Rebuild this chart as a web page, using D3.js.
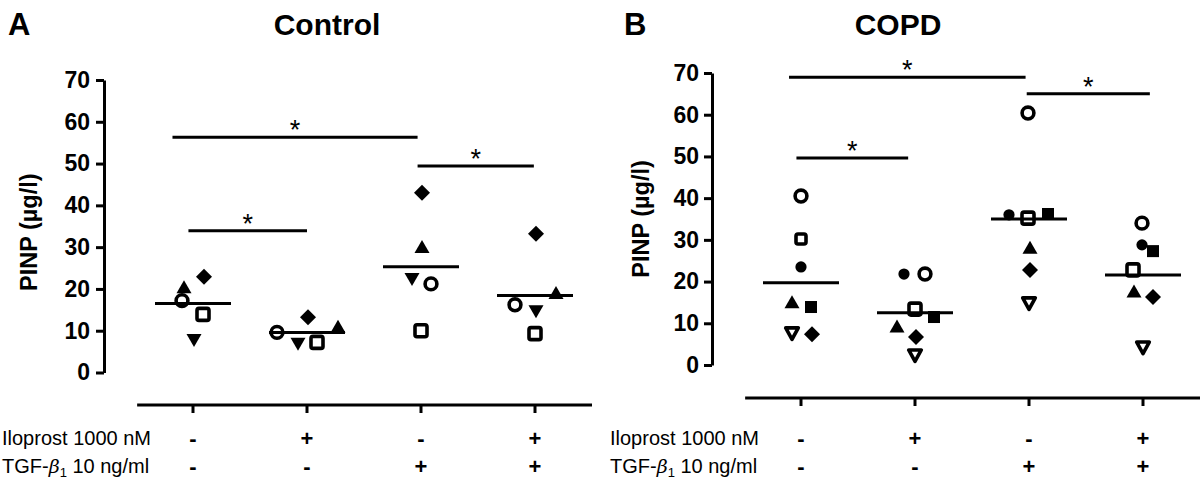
<!DOCTYPE html>
<html><head><meta charset="utf-8">
<script src="https://cdn.jsdelivr.net/npm/d3@7"></script>
<style>
body{margin:0;background:#fff}
svg{display:block;font-family:"Liberation Sans",Arial,Helvetica,sans-serif}
</style>
</head><body>
<svg id="chart" width="1200" height="482"></svg>
<script>
// ---------- data ----------
const categories = ["Iloprost-/TGF-", "Iloprost+/TGF-", "Iloprost-/TGF+", "Iloprost+/TGF+"];
const iloprostRow = ["-", "+", "-", "+"];
const tgfRow = ["-", "-", "+", "+"];
const yTicks = [0, 10, 20, 30, 40, 50, 60, 70];

// Control donors (PINP µg/l)
const ctrlDiamond   = [22.9, 13.2, 43.0, 33.2];
const ctrlTriUp     = [20.3, 10.8, 29.9, 18.9];
const ctrlOpenCirc  = [17.2, 9.6, 21.2, 16.2];
const ctrlOpenSq    = [13.9, 7.2, 10.0, 9.3];
const ctrlTriDown   = [7.9, 7.0, 22.5, 14.8];
const ctrlMeans     = [16.5, 9.6, 25.3, 18.4];
// significance bars: [from category, to category, height]
const ctrlSig = [[-0.04, 1.0, 33.9], [-0.18, 1.97, 56.3], [1.97, 2.99, 49.4]];

// COPD donors (PINP µg/l)
const copdOpenCirc  = [40.5, 21.8, 60.4, 34.0];
const copdOpenSq    = [30.2, 13.4, 35.2, 22.8];
const copdFillCirc  = [23.5, 21.8, 36.0, 28.8];
const copdTriUp     = [14.9, 9.1, 28.0, 17.5];
const copdFillSq    = [13.9, 11.5, 36.2, 27.3];
const copdOpenTriDn = [7.7, 2.4, 14.9, 4.3];
const copdDiamond   = [7.4, 6.7, 22.8, 16.3];
const copdMeans     = [19.7, 12.5, 35.0, 21.6];
const copdSig = [[-0.105, 1.97, 69.0], [1.98, 3.06, 65.0], [-0.04, 0.94, 49.6]];

// ---------- layout (px offsets of points from category centre) ----------
const ctrlSeries = [
  {shape: "diamond",  values: ctrlDiamond,  dx: [11, 1, 1, 1]},
  {shape: "triUp",    values: ctrlTriUp,    dx: [-9, 31, 1, 21]},
  {shape: "openCirc", values: ctrlOpenCirc, dx: [-11, -30, 10, -20]},
  {shape: "openSq",   values: ctrlOpenSq,   dx: [10, 10, 0, 0]},
  {shape: "triDown",  values: ctrlTriDown,  dx: [1, -9, -9, 1]}
];
const copdSeries = [
  {shape: "openCirc",  values: copdOpenCirc,  dx: [0, 10, -1, -1]},
  {shape: "openSqS",   values: copdOpenSq,    dx: [0, 0, -1, -10]},
  {shape: "fillCirc",  values: copdFillCirc,  dx: [0, -11, -20, -1]},
  {shape: "triUp",     values: copdTriUp,     dx: [-9, -18, 1, -9]},
  {shape: "fillSq",    values: copdFillSq,    dx: [10, 19, 19, 10]},
  {shape: "openTriDn", values: copdOpenTriDn, dx: [-9, 0, 0, 0]},
  {shape: "diamond",   values: copdDiamond,   dx: [11, 1, 1, 10]}
];

const svg = d3.select("#chart");

function drawMarker(g, shape, x, y, i) {
  const s = g.append("g").attr("transform", `translate(${x},${y})`);
  switch (shape) {
    case "diamond":
      s.append("path").attr("d", "M0,-8L8,0L0,8L-8,0Z").attr("fill", "#000"); break;
    case "triUp":
      s.append("path").attr("d", "M0,-7.5L7.5,5.5L-7.5,5.5Z").attr("fill", "#000"); break;
    case "triDown":
      s.append("path").attr("d", "M0,7.5L7.5,-5.5L-7.5,-5.5Z").attr("fill", "#000"); break;
    case "openCirc":
      s.append("circle").attr("r", 5.9).attr("fill", "#fff").attr("stroke", "#000").attr("stroke-width", 3.6); break;
    case "openSq":
    case "openSqS": {
      const h = (shape === "openSqS" && i === 0) ? 5 : 6;
      s.append("rect").attr("x", -h).attr("y", -h).attr("width", 2 * h).attr("height", 2 * h).attr("rx", 2)
        .attr("fill", "#fff").attr("stroke", "#000").attr("stroke-width", 3.6); break;
    }
    case "fillCirc":
      s.append("circle").attr("r", 5.6).attr("fill", "#000"); break;
    case "fillSq":
      s.append("rect").attr("x", -6).attr("y", -6).attr("width", 12).attr("height", 12).attr("fill", "#000"); break;
    case "openTriDn":
      s.append("path").attr("d", "M0,6.5L6.3,-5L-6.3,-5Z").attr("fill", "#fff").attr("stroke", "#000")
        .attr("stroke-width", 3.6).attr("stroke-linejoin", "round"); break;
  }
}

function drawPanel(cfg) {
  const x = d3.scaleLinear().domain([0, categories.length - 1]).range(cfg.xRange);
  const y = d3.scaleLinear().domain([0, 70]).range(cfg.yRange);
  const g = svg.append("g");

  // panel letter and title
  g.append("text").attr("x", cfg.letterX).attr("y", 35).attr("font-size", 31).attr("font-weight", "bold").text(cfg.letter);
  g.append("text").attr("x", cfg.titleX).attr("y", 35).attr("text-anchor", "middle")
    .attr("font-size", 30).attr("font-weight", "bold").text(cfg.title);

  // y axis
  const yAxis = d3.axisLeft(y).tickValues(yTicks).tickSize(8).tickSizeOuter(0).tickPadding(cfg.tickPad);
  const ya = g.append("g").attr("transform", `translate(${cfg.axisX},0)`).call(yAxis);
  ya.select(".domain").attr("stroke-width", 3);
  ya.selectAll(".tick line").attr("stroke-width", 3);
  ya.selectAll(".tick text").attr("font-size", 23).attr("font-weight", "bold")
    .attr("font-family", "'Liberation Sans',Arial,sans-serif").attr("fill", "#000");

  // y label
  const yc = (cfg.yRange[0] + cfg.yRange[1]) / 2;
  g.append("text").attr("transform", `translate(${cfg.labelX},${yc + cfg.labelDy}) rotate(-90)`)
    .attr("text-anchor", "middle").attr("dy", "0.35em")
    .attr("font-size", 23.5).attr("font-weight", "bold").text("PINP (µg/l)");

  // markers
  cfg.series.forEach(s => {
    s.values.forEach((v, i) => drawMarker(g, s.shape, x(i) + s.dx[i], y(v), i));
  });

  // mean lines
  g.selectAll(".mean").data(cfg.means).join("line")
    .attr("x1", (d, i) => x(i) - 38).attr("x2", (d, i) => x(i) + 38)
    .attr("y1", d => y(d)).attr("y2", d => y(d))
    .attr("stroke", "#000").attr("stroke-width", 3);

  // significance bars
  cfg.sig.forEach(([a, b, v]) => {
    g.append("line").attr("x1", x(a)).attr("x2", x(b)).attr("y1", y(v)).attr("y2", y(v))
      .attr("stroke", "#000").attr("stroke-width", 3);
    g.append("text").attr("x", (x(a) + x(b)) / 2).attr("y", y(v) + 2).attr("text-anchor", "middle")
      .attr("font-size", 27).text("*");
  });

  // bottom axis line with ticks
  const by = cfg.bottomY;
  g.append("line").attr("x1", x(-0.49)).attr("x2", x(3.5)).attr("y1", by).attr("y2", by)
    .attr("stroke", "#000").attr("stroke-width", 3);
  g.selectAll(".btick").data(categories).join("line")
    .attr("x1", (d, i) => x(i)).attr("x2", (d, i) => x(i))
    .attr("y1", by).attr("y2", by + 8).attr("stroke", "#000").attr("stroke-width", 3);

  // treatment table
  g.append("text").attr("x", cfg.tableX).attr("y", 445).attr("font-size", 20).text("Iloprost 1000 nM");
  const t2 = g.append("text").attr("x", cfg.tableX).attr("y", 473).attr("font-size", 20);
  t2.append("tspan").text("TGF-");
  t2.append("tspan").attr("font-style", "italic").attr("font-family", "'DejaVu Serif',serif").attr("font-size", 19).text("β");
  t2.append("tspan").attr("font-size", 13).attr("dy", 4).text("1");
  t2.append("tspan").attr("dy", -4).text(" 10 ng/ml");

  g.selectAll(".ilo").data(iloprostRow).join("text")
    .attr("x", (d, i) => x(i)).attr("y", 446).attr("text-anchor", "middle")
    .attr("font-size", 22).attr("font-weight", "bold").text(d => d);
  g.selectAll(".tgf").data(tgfRow).join("text")
    .attr("x", (d, i) => x(i)).attr("y", 474).attr("text-anchor", "middle")
    .attr("font-size", 22).attr("font-weight", "bold").text(d => d);
}

drawPanel({
  letter: "A", letterX: 8, title: "Control", titleX: 327,
  xRange: [193, 535], yRange: [372.5, 80], axisX: 104, tickPad: 6,
  labelX: 29, labelDy: 6, bottomY: 405, tableX: 2,
  series: ctrlSeries, means: ctrlMeans, sig: ctrlSig
});
drawPanel({
  letter: "B", letterX: 624, title: "COPD", titleX: 898,
  xRange: [801, 1143], yRange: [365, 73], axisX: 712, tickPad: 5,
  labelX: 641, labelDy: 0, bottomY: 398, tableX: 610,
  series: copdSeries, means: copdMeans, sig: copdSig
});
</script>
</body></html>
